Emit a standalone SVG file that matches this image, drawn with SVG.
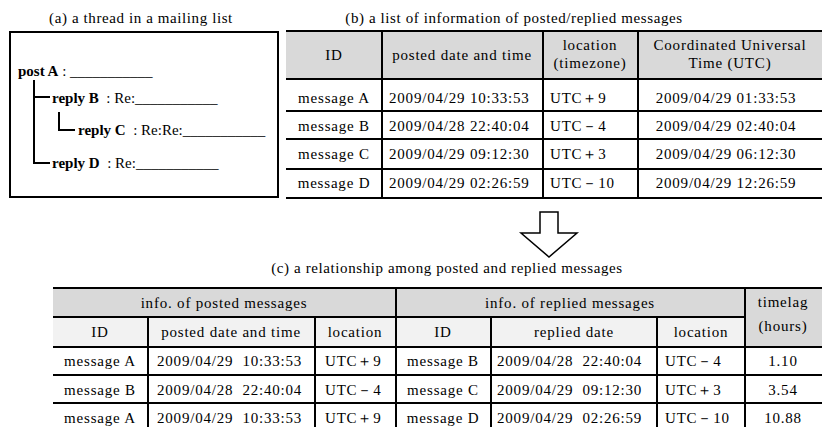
<svg xmlns="http://www.w3.org/2000/svg" width="822" height="427" viewBox="0 0 822 427">
<style>
text{font-family:"Liberation Serif","Times New Roman",serif;font-size:15px;fill:#000;white-space:pre}
.t{letter-spacing:0.6px}
.c{text-anchor:middle}
.d{letter-spacing:0.8px}
.b{font-weight:bold}
.ln{stroke:#000;stroke-width:2;fill:none}
.h1{fill:#d9d9d9}
.h2{fill:#f2f2f2}
</style>
<rect width="822" height="427" fill="#fff"/>

<g id="panel-a">
<text class="t c" x="141" y="23">(a) a thread in a mailing list</text>
<rect x="10" y="32" width="268" height="165" fill="#fff" stroke="#000" stroke-width="2"/>
<g id="postA"><text x="18" y="76"><tspan class="b">post A</tspan> : ___________</text></g>
<g id="replyB"><text x="52" y="103"><tspan class="b">reply B</tspan>  : Re:___________</text></g>
<g id="replyC"><text x="78" y="135"><tspan class="b">reply C</tspan>  : Re:Re:___________</text></g>
<g id="replyD"><text x="52" y="168"><tspan class="b">reply D</tspan>  : Re:___________</text></g>
</g>

<g id="table-b">
<text class="t c" x="514" y="23">(b) a list of information of posted/replied messages</text>
<rect class="h1" x="286" y="31" width="536" height="48"/>
<g class="ln">
<line x1="286" y1="31" x2="822" y2="31"/>
<line x1="286" y1="79" x2="822" y2="79"/>
<line x1="286" y1="111" x2="822" y2="111"/>
<line x1="286" y1="139" x2="822" y2="139"/>
<line x1="286" y1="169" x2="822" y2="169"/>
<line x1="286" y1="198" x2="822" y2="198"/>
<line x1="382" y1="31" x2="382" y2="198"/>
<line x1="543" y1="31" x2="543" y2="198"/>
<line x1="638" y1="31" x2="638" y2="198"/>
</g>
<text class="d c" x="334" y="60">ID</text>
<text class="d c" x="462" y="60">posted date and time</text>
<text class="d c" x="590" y="50">location</text>
<text class="d c" x="590" y="68">(timezone)</text>
<text class="d c" x="730" y="50">Coordinated Universal</text>
<text class="d c" x="730" y="68">Time (UTC)</text>

<text class="d c" x="334" y="103">message A</text>
<text class="d" x="389" y="103">2009/04/29 10:33:53</text>
<text class="d" x="550" y="103">UTC＋9</text>
<text class="d c" x="726" y="103">2009/04/29 01:33:53</text>

<text class="d c" x="334" y="131">message B</text>
<text class="d" x="389" y="131">2009/04/28 22:40:04</text>
<text class="d" x="550" y="131">UTC－4</text>
<text class="d c" x="726" y="131">2009/04/29 02:40:04</text>

<text class="d c" x="334" y="159">message C</text>
<text class="d" x="389" y="159">2009/04/29 09:12:30</text>
<text class="d" x="550" y="159">UTC＋3</text>
<text class="d c" x="726" y="159">2009/04/29 06:12:30</text>

<text class="d c" x="334" y="188">message D</text>
<text class="d" x="389" y="188">2009/04/29 02:26:59</text>
<text class="d" x="550" y="188">UTC－10</text>
<text class="d c" x="726" y="188">2009/04/29 12:26:59</text>
</g>

<g id="connectors">
<g class="ln">
<polyline points="34,80 34,163 50,163"/>
<line x1="34" y1="97" x2="50" y2="97"/>
<polyline points="59,112 59,130 75,130"/>
</g>
<polygon points="540,212 558,212 558,233 577,233 549,257 521,233 540,233" fill="#fff" stroke="#000" stroke-width="1.5"/>
</g>

<g id="table-c">
<text class="t c" x="447" y="273">(c) a relationship among posted and replied messages</text>
<rect class="h1" x="53" y="288" width="692" height="29"/>
<rect class="h1" x="745" y="288" width="77" height="59"/>
<rect class="h2" x="53" y="317" width="692" height="30"/>
<g class="ln">
<line x1="53" y1="288" x2="822" y2="288"/>
<line x1="53" y1="317" x2="745" y2="317"/>
<line x1="53" y1="347" x2="822" y2="347"/>
<line x1="53" y1="375" x2="822" y2="375"/>
<line x1="53" y1="403" x2="822" y2="403"/>
<line x1="148" y1="317" x2="148" y2="427"/>
<line x1="315" y1="317" x2="315" y2="427"/>
<line x1="396" y1="288" x2="396" y2="427"/>
<line x1="491" y1="317" x2="491" y2="427"/>
<line x1="657" y1="317" x2="657" y2="427"/>
<line x1="745" y1="288" x2="745" y2="427"/>
</g>
<text class="d c" x="224" y="308">info. of posted messages</text>
<text class="d c" x="570" y="308">info. of replied messages</text>
<text class="d c" x="783" y="307">timelag</text>
<text class="d c" x="783" y="331">(hours)</text>
<text class="d c" x="100" y="337">ID</text>
<text class="d c" x="231" y="337">posted date and time</text>
<text class="d c" x="355" y="337">location</text>
<text class="d c" x="443" y="337">ID</text>
<text class="d c" x="574" y="337">replied date</text>
<text class="d c" x="701" y="337">location</text>

<text class="d c" x="100" y="366">message A</text>
<text class="d" x="157" y="366">2009/04/29  10:33:53</text>
<text class="d" x="325" y="366">UTC＋9</text>
<text class="d c" x="443" y="366">message B</text>
<text class="d" x="497" y="366">2009/04/28  22:40:04</text>
<text class="d" x="665" y="366">UTC－4</text>
<text class="d c" x="783" y="366">1.10</text>

<text class="d c" x="100" y="395">message B</text>
<text class="d" x="157" y="395">2009/04/28  22:40:04</text>
<text class="d" x="325" y="395">UTC－4</text>
<text class="d c" x="443" y="395">message C</text>
<text class="d" x="497" y="395">2009/04/29  09:12:30</text>
<text class="d" x="665" y="395">UTC＋3</text>
<text class="d c" x="783" y="395">3.54</text>

<text class="d c" x="100" y="423">message A</text>
<text class="d" x="157" y="423">2009/04/29  10:33:53</text>
<text class="d" x="325" y="423">UTC＋9</text>
<text class="d c" x="443" y="423">message D</text>
<text class="d" x="497" y="423">2009/04/29  02:26:59</text>
<text class="d" x="665" y="423">UTC－10</text>
<text class="d c" x="783" y="423">10.88</text>
</g>
</svg>
